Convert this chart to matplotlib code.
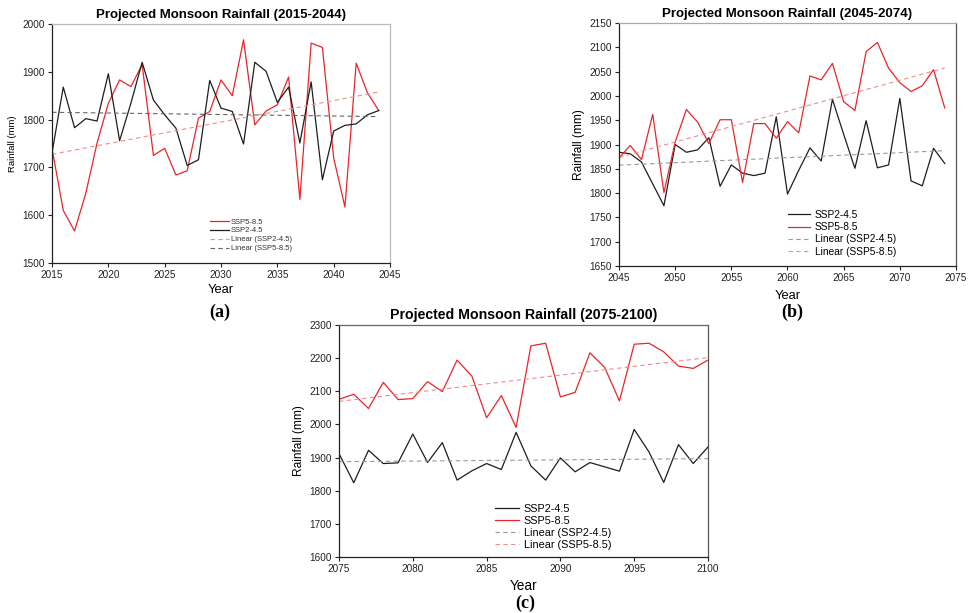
import numpy as np
import matplotlib
matplotlib.use("Agg")
import matplotlib.pyplot as plt

plt.rcParams['font.family'] = ['Liberation Sans', 'DejaVu Sans']

# ---------------- data ----------------
years_a = list(range(2015, 2045))
ssp585_a = [1740, 1610, 1567, 1646, 1751, 1834, 1883, 1869, 1915, 1725,
            1740, 1684, 1693, 1803, 1817, 1883, 1850, 1967, 1789, 1818,
            1831, 1889, 1633, 1960, 1951, 1720, 1617, 1918, 1856, 1819]
ssp245_a = [1730, 1868, 1783, 1802, 1797, 1896, 1756, 1834, 1920, 1841,
            1810, 1782, 1704, 1716, 1882, 1824, 1817, 1749, 1920, 1901,
            1836, 1868, 1751, 1879, 1674, 1776, 1788, 1791, 1810, 1819]

years_b = list(range(2045, 2075))
ssp245_b = [1884, 1881, 1864, 1819, 1774, 1900, 1884, 1889, 1914, 1814,
            1858, 1841, 1836, 1841, 1957, 1798, 1847, 1893, 1866, 1993,
            1921, 1851, 1949, 1852, 1858, 1995, 1825, 1815, 1892, 1861]
ssp585_b = [1872, 1898, 1869, 1962, 1801, 1905, 1972, 1946, 1902, 1951,
            1951, 1822, 1943, 1943, 1913, 1947, 1924, 2041, 2033, 2067,
            1988, 1970, 2091, 2110, 2057, 2027, 2009, 2021, 2054, 1975]

years_c = list(range(2075, 2101))
ssp245_c = [1912, 1824, 1922, 1882, 1884, 1971, 1885, 1945, 1832, 1860,
            1882, 1864, 1976, 1875, 1832, 1899, 1857, 1885, 1872, 1859,
            1985, 1917, 1825, 1939, 1882, 1932]
ssp585_c = [2076, 2091, 2048, 2127, 2075, 2078, 2129, 2099, 2194, 2146,
            2020, 2087, 1991, 2237, 2245, 2083, 2097, 2216, 2172, 2071,
            2242, 2245, 2219, 2176, 2169, 2194]

RED = '#e8262a'
BLACK = '#1e1e1e'
PINK = '#f08c8c'
GREY_A = '#666666'
GREY = '#9a9a9a'

W, H = 973, 613
fig = plt.figure(figsize=(W / 100, H / 100), dpi=100)


def ax_px(l, t, r, b):
    return fig.add_axes([l / W, 1 - b / H, (r - l) / W, (b - t) / H])


def trend(x, y):
    x = np.asarray(x, float)
    k, c = np.polyfit(x, np.asarray(y, float), 1)
    return k * x + c


def style(ax, top_c, right_c):
    ax.spines['left'].set_color('#222222')
    ax.spines['bottom'].set_color('#222222')
    ax.spines['top'].set_color(top_c)
    ax.spines['right'].set_color(right_c)
    for s in ax.spines.values():
        s.set_linewidth(0.9)
    ax.tick_params(direction='out', length=3, width=0.8, labelsize=7.2,
                   colors='#222222', top=False, right=False, pad=2)


DASH = (0, (4, 3))

# ---------------- (a) ----------------
ax = ax_px(52, 24, 390, 263)
ax.plot(years_a, ssp585_a, color=RED, lw=0.9, label='SSP5-8.5')
ax.plot(years_a, ssp245_a, color=BLACK, lw=0.9, label='SSP2-4.5')
ax.plot(years_a, trend(years_a, ssp585_a), color=PINK, lw=0.8, ls=DASH,
        label='Linear (SSP2-4.5)')
ax.plot(years_a, trend(years_a, ssp245_a), color=GREY_A, lw=0.8, ls=DASH,
        label='Linear (SSP5-8.5)')
ax.set_xlim(2015, 2045)
ax.set_ylim(1500, 2000)
ax.set_xticks(range(2015, 2046, 5))
ax.set_yticks(range(1500, 2001, 100))
style(ax, '#bbbbbb', '#bbbbbb')
ax.set_title('Projected Monsoon Rainfall (2015-2044)', fontsize=9.5,
             fontweight='bold', pad=4)
ax.set_xlabel('Year', fontsize=9.3)
ax.xaxis.set_label_coords(0.5, -21 / 239)
ax.set_ylabel('Rainfall (mm)', fontsize=6.8, labelpad=4)
ax.legend(loc='upper left', bbox_to_anchor=(0.459, 0.20), fontsize=5.5,
          frameon=False, handlelength=2.4, handletextpad=0.3,
          labelspacing=0.2, borderaxespad=0, labelcolor='#333333')
fig.text(220 / W, 1 - 312 / H, '(a)', fontsize=13, fontweight='bold',
         family='Liberation Serif', ha='center', va='center')

# ---------------- (b) ----------------
ax = ax_px(619, 23, 956, 266)
ax.plot(years_b, ssp245_b, color=BLACK, lw=0.9, label='SSP2-4.5')
ax.plot(years_b, ssp585_b, color=RED, lw=0.9, label='SSP5-8.5')
ax.plot(years_b, trend(years_b, ssp245_b), color=GREY, lw=0.8, ls=DASH,
        label='Linear (SSP2-4.5)')
ax.plot(years_b, trend(years_b, ssp585_b), color=PINK, lw=0.8, ls=DASH,
        label='Linear (SSP5-8.5)')
ax.set_xlim(2045, 2075)
ax.set_ylim(1650, 2150)
ax.set_xticks(range(2045, 2076, 5))
ax.set_yticks(range(1650, 2151, 50))
style(ax, '#aaaaaa', '#555555')
ax.set_title('Projected Monsoon Rainfall (2045-2074)', fontsize=9.5,
             fontweight='bold', pad=4)
ax.set_xlabel('Year', fontsize=9.3)
ax.xaxis.set_label_coords(0.5, -24 / 243)
ax.set_ylabel('Rainfall (mm)', fontsize=8.6, labelpad=3)
ax.legend(loc='upper left', bbox_to_anchor=(0.49, 0.247), fontsize=7.3,
          frameon=False, handlelength=2.2, handletextpad=0.4,
          labelspacing=0.22, borderaxespad=0)
fig.text(792 / W, 1 - 312 / H, '(b)', fontsize=13, fontweight='bold',
         family='Liberation Serif', ha='center', va='center')

# ---------------- (c) ----------------
ax = ax_px(339, 325, 708, 557)
ax.plot(years_c, ssp245_c, color=BLACK, lw=0.9, label='SSP2-4.5')
ax.plot(years_c, ssp585_c, color=RED, lw=0.9, label='SSP5-8.5')
ax.plot(years_c, trend(years_c, ssp245_c), color=GREY, lw=0.8, ls=DASH,
        label='Linear (SSP2-4.5)')
ax.plot(years_c, trend(years_c, ssp585_c), color=PINK, lw=0.8, ls=DASH,
        label='Linear (SSP5-8.5)')
ax.set_xlim(2075, 2100)
ax.set_ylim(1600, 2300)
ax.set_xticks(range(2075, 2101, 5))
ax.set_yticks(range(1600, 2301, 100))
style(ax, '#666666', '#555555')
ax.set_title('Projected Monsoon Rainfall (2075-2100)', fontsize=10.2,
             fontweight='bold', pad=4)
ax.set_xlabel('Year', fontsize=9.8)
ax.xaxis.set_label_coords(0.5, -22 / 232)
ax.set_ylabel('Rainfall (mm)', fontsize=8.6, labelpad=3)
ax.legend(loc='upper left', bbox_to_anchor=(0.412, 0.246), fontsize=7.8,
          frameon=False, handlelength=2.2, handletextpad=0.4,
          labelspacing=0.18, borderaxespad=0)
fig.text(525 / W, 1 - 603 / H, '(c)', fontsize=13, fontweight='bold',
         family='Liberation Serif', ha='center', va='center')

fig.savefig('out.png', dpi=100, facecolor='white')
